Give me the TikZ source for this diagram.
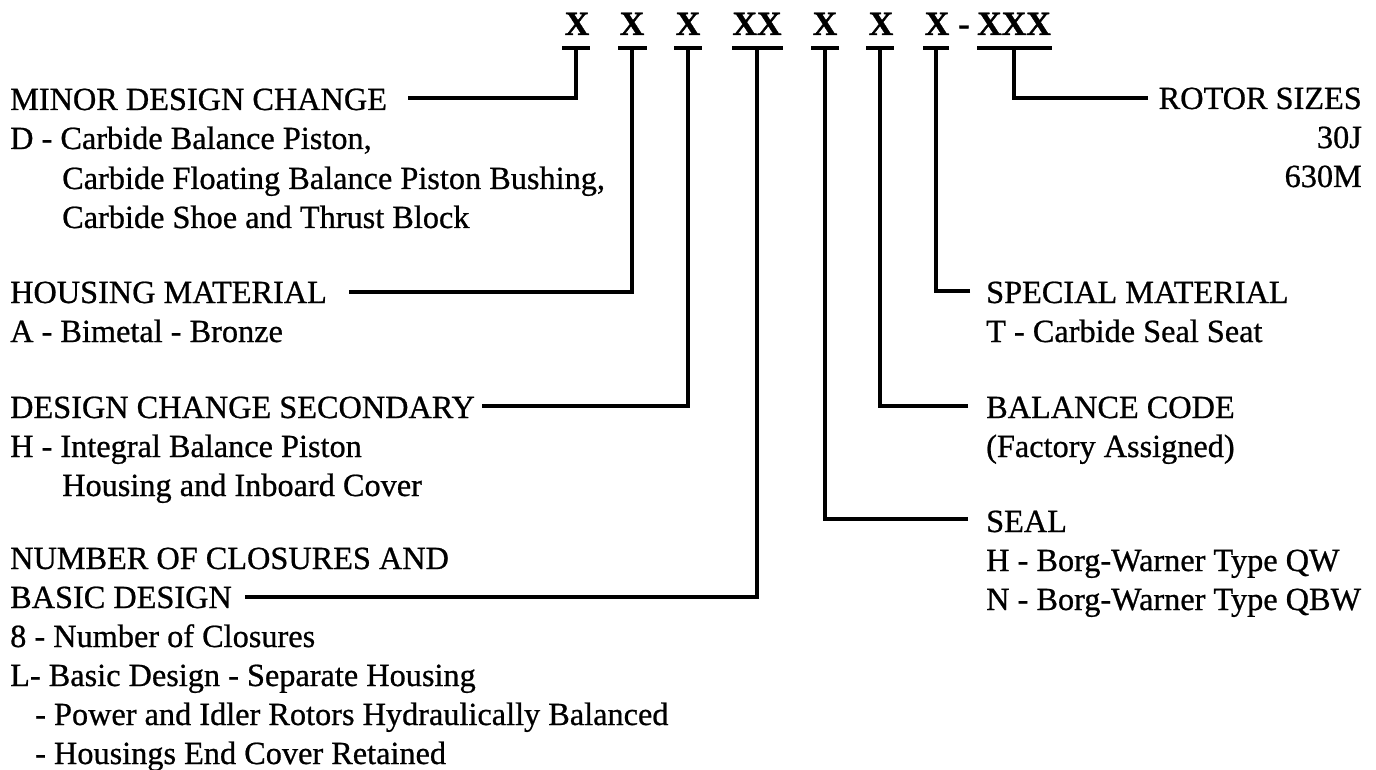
\documentclass[tikz,border=0pt]{standalone}
\usepackage{fontspec}
\setmainfont{Liberation Serif}[FakeBold=0.7]
\newfontfamily\hdrfont{Liberation Serif}[UprightFont={* Bold},FakeBold=1.2]
\begin{document}
\begin{tikzpicture}[x=1pt,y=-1pt,
  txt/.style={anchor=base west,inner sep=0pt,font=\fontsize{32.3}{38}\selectfont},
  rtxt/.style={anchor=base east,inner sep=0pt,font=\fontsize{32.3}{38}\selectfont},
  hdr/.style={anchor=base,inner sep=0pt,font=\fontsize{34}{40}\hdrfont},
  bar/.style={fill=black,inner sep=0pt,minimum height=4.5pt,minimum width=#1},
  conn/.style={line width=3.4pt}]
\useasboundingbox (0,0) rectangle (1376,770);
\fill[white] (0,0) rectangle (1376,770);

% header code
\node[hdr] (h1) at (577,35) {X};
\node[hdr] (h2) at (632,35) {X};
\node[hdr] (h3) at (688,35) {X};
\node[hdr] (h4) at (757,35) {XX};
\node[hdr] (h5) at (825,35) {X};
\node[hdr] (h6) at (881,35) {X};
\node[hdr] (h7) at (937,35) {X};
\node[hdr] (hd) at (964,35) {-};
\node[hdr] (h8) at (1014,35) {XXX};

% bars under the code letters
\node[bar=28pt] (b1) at (576,48) {};
\node[bar=29pt] (b2) at (632,48) {};
\node[bar=28pt] (b3) at (688,48) {};
\node[bar=51pt] (b4) at (757,48) {};
\node[bar=28pt] (b5) at (825,48) {};
\node[bar=28pt] (b6) at (880,48) {};
\node[bar=26pt] (b7) at (936,48) {};
\node[bar=75pt] (b8) at (1014,48) {};

% connector free ends
\coordinate (e1) at (408,98);
\coordinate (e2) at (349,292);
\coordinate (e3) at (482,406);
\coordinate (e4) at (245,597);
\coordinate (e5) at (968,519);
\coordinate (e6) at (968,406);
\coordinate (e7) at (970,291);
\coordinate (e8) at (1148,98);

\draw[conn] (e1) -| (b1);
\draw[conn] (e2) -| (b2);
\draw[conn] (e3) -| (b3);
\draw[conn] (e4) -| (b4);
\draw[conn] (e5) -| (b5);
\draw[conn] (e6) -| (b6);
\draw[conn] (e7) -| (b7);
\draw[conn] (e8) -| (b8);

% left texts
\node[txt] (t1a) at (10,110) {MINOR DESIGN CHANGE};
\node[txt] (t1b) at (10,149) {D - Carbide Balance Piston,};
\node[txt] (t1c) at (62,189) {Carbide Floating Balance Piston Bushing,};
\node[txt] (t1d) at (62,228) {Carbide Shoe and Thrust Block};

\node[txt] (t2a) at (10,303) {HOUSING MATERIAL};
\node[txt] (t2b) at (10,342) {A - Bimetal - Bronze};

\node[txt] (t3a) at (10,418) {DESIGN CHANGE SECONDARY};
\node[txt] (t3b) at (10,457) {H - Integral Balance Piston};
\node[txt] (t3c) at (62,496) {Housing and Inboard Cover};

\node[txt] (t4a) at (10,569) {NUMBER OF CLOSURES AND};
\node[txt] (t4b) at (10,608) {BASIC DESIGN};
\node[txt] (t4c) at (10,647) {8 - Number of Closures};
\node[txt] (t4d) at (10,686) {L- Basic Design - Separate Housing};
\node[txt] (t4e) at (35,725) {- Power and Idler Rotors Hydraulically Balanced};
\node[txt] (t4f) at (35,764) {- Housings End Cover Retained};

% right texts
\node[rtxt] (t8a) at (1362,109) {ROTOR SIZES};
\node[rtxt] (t8b) at (1362,148) {30J};
\node[rtxt] (t8c) at (1362,187) {630M};

\node[txt] (t7a) at (986,303) {SPECIAL MATERIAL};
\node[txt] (t7b) at (986,342) {T - Carbide Seal Seat};

\node[txt] (t6a) at (986,418) {BALANCE CODE};
\node[txt] (t6b) at (986,457) {(Factory Assigned)};

\node[txt] (t5a) at (986,532) {SEAL};
\node[txt] (t5b) at (986,571) {H - Borg-Warner Type QW};
\node[txt] (t5c) at (986,610) {N - Borg-Warner Type QBW};
\end{tikzpicture}
\end{document}
